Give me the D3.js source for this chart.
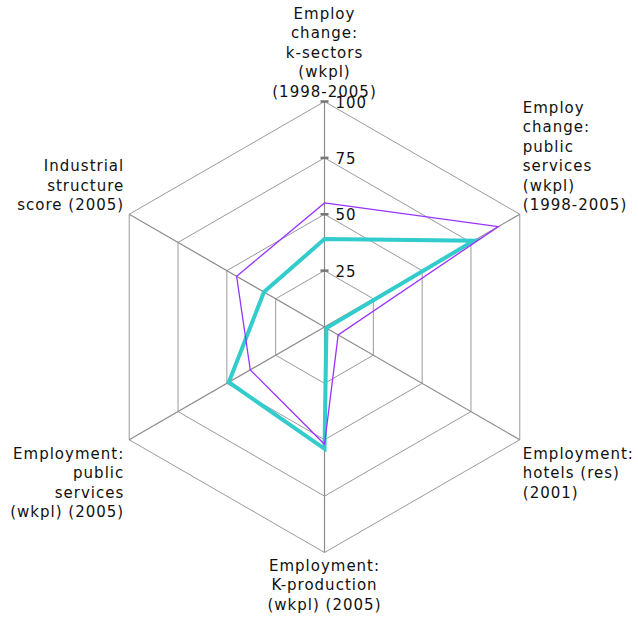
<!DOCTYPE html>
<html>
<head>
<meta charset="utf-8">
<script src="https://cdn.jsdelivr.net/npm/d3@7"></script>
<style>
  body { margin: 0; background: #fff; }
  text { font-family: "DejaVu Sans", Verdana, sans-serif; font-size: 15px; letter-spacing: 1px; fill: #111; }
</style>
</head>
<body>
<div id="chart"></div>
<script>
// datos
const axisLabels = [
    ['Employ', 'change:', 'k-sectors', '(wkpl)', '(1998-2005)'],
    ['Employ', 'change:', 'public', 'services', '(wkpl)', '(1998-2005)'],
    ['Employment:', 'hotels (res)', '(2001)'],
    ['Employment:', 'K-production', '(wkpl) (2005)'],
    ['Employment:', 'public', 'services', '(wkpl) (2005)'],
    ['Industrial', 'structure', 'score (2005)'],
];
const tickValues = [25, 50, 75, 100];
const purpleValues = [55, 89, 7, 52, 38, 45];
const cyanValues = [39, 76.5, 1, 54, 49, 31];

const width = 638;
const height = 620;
const center = {x: 324.5, y: 327};
const radius = 225.5;
const lineHeight = 19.5;

const svg = d3.select('div#chart').append('svg').attr('width', width).attr('height', height);
const g = svg.append('g').attr('transform', `translate(${center.x},${center.y})`);

const r = d3.scaleLinear().domain([0, 100]).range([0, radius]);
const angle = d3.scaleLinear().domain([0, axisLabels.length]).range([0, 2 * Math.PI]);

const px = (i, v) => r(v) * Math.sin(angle(i));
const py = (i, v) => -r(v) * Math.cos(angle(i));

// rejilla
const gridGroup = g.append('g').attr('class', 'grid');
tickValues.forEach(t => {
    const pts = axisLabels.map((d, i) => [px(i, t), py(i, t)]);
    gridGroup.append('polygon')
        .attr('points', pts.map(p => p.join(',')).join(' '))
        .attr('fill', 'none')
        .attr('stroke', '#9a9a9a')
        .attr('stroke-width', 1);
});
axisLabels.forEach((d, i) => {
    gridGroup.append('line')
        .attr('x1', 0).attr('y1', 0)
        .attr('x2', px(i, 100)).attr('y2', py(i, 100))
        .attr('stroke', '#8c8c8c')
        .attr('stroke-width', 1.2);
});

// series
const line = d3.lineRadial()
    .angle((d, i) => angle(i))
    .radius(d => r(d))
    .curve(d3.curveLinearClosed);

g.append('path')
    .datum(cyanValues)
    .attr('d', line)
    .attr('fill', 'none')
    .attr('stroke', '#33cccc')
    .attr('stroke-width', 4)
    .attr('stroke-linejoin', 'miter');

g.append('path')
    .datum(purpleValues)
    .attr('d', line)
    .attr('fill', 'none')
    .attr('stroke', '#9933ff')
    .attr('stroke-width', 1.3);

// ticks
const tickGroup = g.append('g').attr('class', 'ticks');
tickValues.forEach(t => {
    tickGroup.append('line')
        .attr('x1', -4).attr('x2', 4)
        .attr('y1', -r(t)).attr('y2', -r(t))
        .attr('stroke', '#777')
        .attr('stroke-width', 2.5);
    tickGroup.append('text')
        .attr('x', 11)
        .attr('y', -r(t) + 1)
        .attr('dominant-baseline', 'central')
        .text(t);
});

// etiquetas
const labelGroup = g.append('g').attr('class', 'labels');
axisLabels.forEach((lines, i) => {
    const vx = px(i, 100);
    const vy = py(i, 100);
    let anchor, x, firstY;
    const n = lines.length;
    if (i === 0) { anchor = 'middle'; x = vx; firstY = vy - 5 - (n - 1) * lineHeight; }
    else if (i === 1) { anchor = 'start'; x = vx + 3; firstY = vy - 4 - (n - 1) * lineHeight; }
    else if (i === 2) { anchor = 'start'; x = vx + 3; firstY = vy + 19; }
    else if (i === 3) { anchor = 'middle'; x = vx; firstY = vy + 18; }
    else if (i === 4) { anchor = 'end'; x = vx - 5; firstY = vy + 19; }
    else { anchor = 'end'; x = vx - 5; firstY = vy - 4 - (n - 1) * lineHeight; }
    const text = labelGroup.append('text').attr('text-anchor', anchor);
    lines.forEach((l, j) => {
        text.append('tspan').attr('x', x).attr('y', firstY + j * lineHeight).text(l);
    });
});
</script>
</body>
</html>
